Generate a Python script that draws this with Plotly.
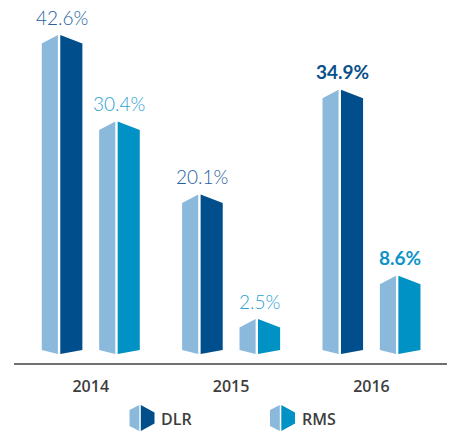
import plotly.graph_objects as go

# ---------------- data ----------------
years = ["2014", "2015", "2016"]
series_names = ["DLR", "RMS"]
dlr_values = [42.6, 20.1, 34.9]
rms_values = [30.4, 2.5, 8.6]
bold_label = [False, False, True]   # 2016 labels are emphasised

# ---------------- styles ----------------
LIGHT = "#8bb9dc"
DARK = {"DLR": "#004e8b", "RMS": "#0091c5"}
LABEL = {"DLR": "#25619f", "RMS": "#2c9fd3"}
LABEL_BOLD = {"DLR": "#0b4f8a", "RMS": "#1093c9"}
TEXT = "#3d3d3d"
FONT = "Lato"
FONT2 = "Open Sans"

W, H = 452, 436
ML, MR, MT, MB = 14, 5, 0, 73
PW, PH = W - ML - MR, H - MT - MB
XPX = 140.35          # pixels per category step
YPX = 7.08            # pixels per percentage point
X0 = -0.547
X1 = X0 + PW / XPX
Y1 = 47.56
Y0 = Y1 - PH / YPX

# bar geometry (pixels)
OFF = 28.7     # offset of each bar from category centre
HALF = 20.3    # half width of a bar
RIDGE = -3.0   # ridge position relative to bar centre
GAP = 1.2      # half of white gap at ridge
CAP = 8.5      # drop of the top edge from ridge to outer edge
BOT_C = 17.3   # bottom ridge below zero
BOT_E = 13.3   # bottom outer edges below zero


def prism(xc, v):
    l = xc - HALF / XPX
    r = xc + HALF / XPX
    m = xc + RIDGE / XPX
    g = GAP / XPX
    top_e = v - CAP / YPX
    bc = -BOT_C / YPX
    be = -BOT_E / YPX
    light = [(l, be), (m - g, bc), (m - g, v), (l, top_e), (l, be)]
    dark = [(m + g, bc), (r, be), (r, top_e), (m + g, v), (m + g, bc)]
    return light, dark


fig = go.Figure()
annotations = []

for s_idx, (name, vals) in enumerate(zip(series_names, [dlr_values, rms_values])):
    sign = -1 if s_idx == 0 else 1
    lx, ly, dx, dy = [], [], [], []
    for i, v in enumerate(vals):
        xc = i + sign * OFF / XPX
        light, dark = prism(xc, v)
        for px, py in light:
            lx.append(px); ly.append(py)
        lx.append(None); ly.append(None)
        for px, py in dark:
            dx.append(px); dy.append(py)
        dx.append(None); dy.append(None)
        annotations.append(dict(
            x=xc, y=v, xref="x", yref="y", text=f"{v}%", showarrow=False,
            yanchor="middle", xanchor="center", yshift=18,
            font=dict(family=FONT, size=19,
                      color=LABEL_BOLD[name] if bold_label[i] else LABEL[name],
                      weight=700 if bold_label[i] else 300)))
    fig.add_trace(go.Scatter(x=lx, y=ly, mode="lines", fill="toself", fillcolor=LIGHT,
                             line=dict(width=0), hoverinfo="skip", showlegend=False))
    fig.add_trace(go.Scatter(x=dx, y=dy, mode="lines", fill="toself", fillcolor=DARK[name],
                             line=dict(width=0), hoverinfo="skip", showlegend=False, name=name))


# ---------------- custom legend ----------------
def pp(px, py):
    return (px - ML) / PW, (MT + PH - py) / PH


def path(points):
    pts = [pp(*p) for p in points]
    return "M " + " L ".join(f"{x:.5f},{y:.5f}" for x, y in pts) + " Z"


shapes = []
LEG_X = [129.5, 270.0]
for k, name in enumerate(series_names):
    x0 = LEG_X[k]
    light_pts = [(x0, 410), (x0 + 9.8, 405), (x0 + 9.8, 431), (x0, 426)]
    dark_pts = [(x0 + 11.3, 405), (x0 + 25.0, 412.5), (x0 + 25.0, 423.5), (x0 + 11.3, 431)]
    shapes.append(dict(type="path", path=path(light_pts), xref="paper", yref="paper",
                       fillcolor=LIGHT, line=dict(width=0)))
    shapes.append(dict(type="path", path=path(dark_pts), xref="paper", yref="paper",
                       fillcolor=DARK[name], line=dict(width=0)))
    tx, ty = pp(x0 + 29.5, 419)
    annotations.append(dict(x=tx, y=ty, xref="paper", yref="paper", text=name,
                            showarrow=False, xanchor="left", yanchor="middle",
                            font=dict(family=FONT2, size=16, color=TEXT, weight=600)))

fig.update_layout(
    width=W, height=H,
    margin=dict(l=ML, r=MR, t=MT, b=MB),
    paper_bgcolor="white", plot_bgcolor="white",
    showlegend=False,
    shapes=shapes,
    annotations=annotations,
    xaxis=dict(range=[X0, X1], tickvals=[0, 1, 2], ticktext=years,
               showline=True, linecolor="#707070", linewidth=1.6,
               showgrid=False, zeroline=False, ticks="",
               ticklabelstandoff=8,
               tickfont=dict(family=FONT2, size=16, color=TEXT, weight=600),
               fixedrange=True),
    yaxis=dict(range=[Y0, Y1], visible=False, showgrid=False, zeroline=False,
               fixedrange=True),
)

fig.write_html("out.html", config={"displayModeBar": False},
               post_script="document.body.style.margin='0';")
